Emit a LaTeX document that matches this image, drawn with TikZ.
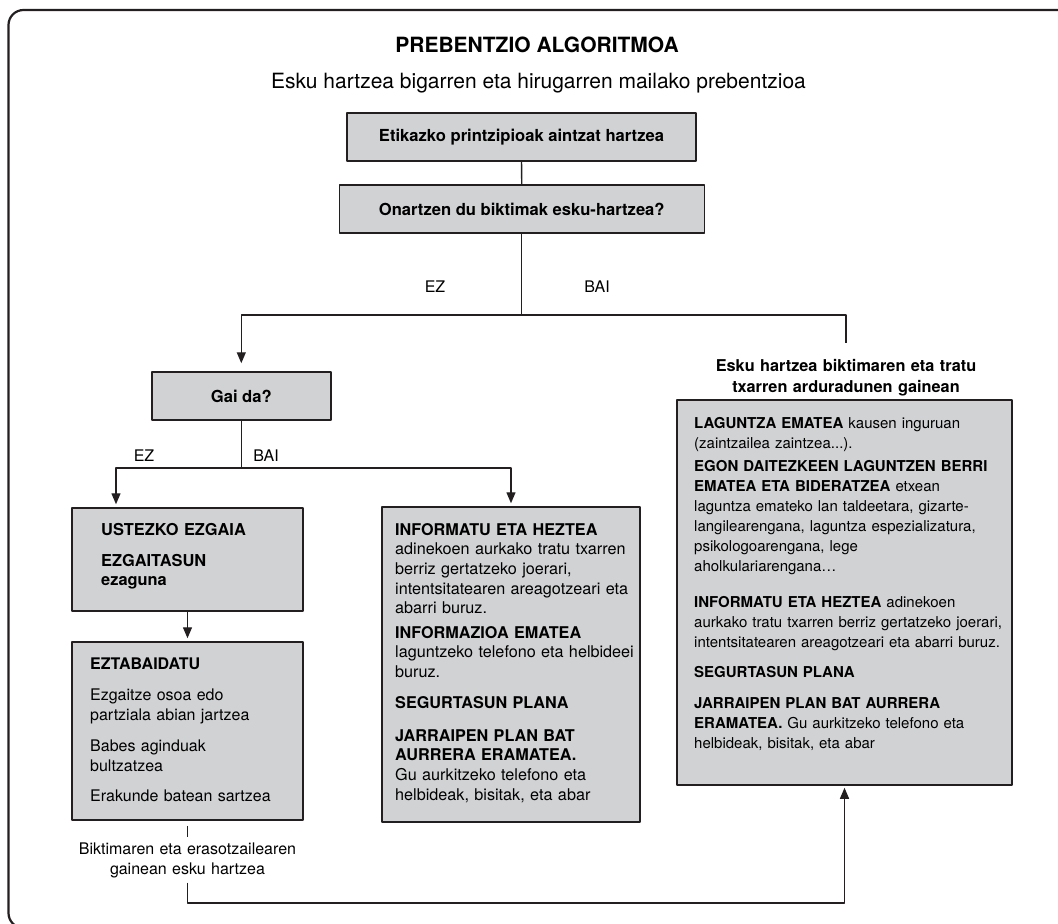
\documentclass[tikz,border=0pt]{standalone}
\usepackage{fontspec}
\setmainfont{TeX Gyre Heros}
\usetikzlibrary{arrows.meta}
\definecolor{boxgrey}{RGB}{209,210,212}
\definecolor{ink}{RGB}{35,31,32}
\begin{document}
\begin{tikzpicture}[x=1pt,y=-1pt,line join=round,>={Triangle[length=11pt,width=9pt]},
  box/.style={draw=ink,line width=1.5pt,fill=boxgrey,inner sep=0pt},
  wire/.style={draw=ink,line width=1.3pt},
  para/.style={anchor=base west,inner sep=0pt,text width=330pt,align=left},
  lbl/.style={font=\fontsize{16}{19}\selectfont},
  lfont/.style={font=\fontsize{16}{20}\selectfont},
  mfont/.style={font=\fontsize{16.2}{19.7}\selectfont},
  rfont/.style={font=\fontsize{15}{20}\selectfont},
  hfont/.style={font=\bfseries\fontsize{16.6}{20}\selectfont}]
\useasboundingbox (0,0) rectangle (1058,924);
\clip (0,0) rectangle (1058,924);
\draw[ink,line width=2.2pt,rounded corners=15pt] (8.5,10) rectangle (1075,928);

\node[font=\bfseries\fontsize{21}{25}\selectfont] (title) at (537,44.5) {PREBENTZIO ALGORITMOA};
\node[font=\fontsize{21}{25}\selectfont] (sub) at (538.5,83) {Esku hartzea bigarren eta hirugarren mailako prebentzioa};

\node[box,hfont,minimum width=349pt,minimum height=48pt] (ethic) at (521.5,137) {Etikazko printzipioak aintzat hartzea};
\node[box,hfont,minimum width=365pt,minimum height=48pt] (accept) at (521.75,209) {Onartzen du biktimak esku-hartzea?};
\node[box,hfont,minimum width=179pt,minimum height=48pt] (gai) at (241.3,396) {Gai da?};
\node[box,minimum width=231pt,minimum height=103pt] (ustezko) at (187.5,559.5) {};
\node[box,minimum width=231pt,minimum height=178pt] (eztab) at (187.5,731) {};
\node[box,minimum width=258pt,minimum height=315pt] (info) at (511,664.5) {};
\node[box,minimum width=335pt,minimum height=385pt] (care) at (844.5,592.5) {};

\foreach \x/\y/\g in {435/287/EZ,597/287/BAI,144/456/EZ,266/456/BAI}\node[lbl] (l\x) at (\x,\y) {\g};

\foreach \y/\t [count=\i] in {535/{\textbf{USTEZKO EZGAIA}},566/{\textbf{EZGAITASUN}\\\textbf{ezaguna}}}
  \node[para,font=\fontsize{16.4}{19}\selectfont] (u\i) at (101,\y) {\t};
\foreach \y/\t [count=\i] in {669/{\textbf{EZTABAIDATU}},700/{Ezgaitze osoa edo\\partziala abian jartzea},
  751/{Babes aginduak\\bultzatzea},801/{Erakunde batean sartzea}}
  \node[para,lfont] (e\i) at (90,\y) {\t};
\foreach \y/\t [count=\i] in {535/{\textbf{INFORMATU ETA HEZTEA}\\adinekoen aurkako tratu txarren\\berriz gertatzeko joerari,\\intentsitatearen areagotzeari eta\\abarri buruz.},
  638/{\textbf{INFORMAZIOA EMATEA}\\laguntzeko telefono eta helbideei\\buruz.},
  708/{\textbf{SEGURTASUN PLANA}},
  741/{\textbf{JARRAIPEN PLAN BAT}\\\textbf{AURRERA ERAMATEA.}\\Gu aurkitzeko telefono eta\\helbideak, bisitak, eta abar}}
  \node[para,mfont] (m\i) at (395,\y) {\t};
\foreach \y/\t [count=\i] in {428.5/{\textbf{LAGUNTZA EMATEA} kausen inguruan\\(zaintzailea zaintzea...).},
  471.5/{\textbf{EGON DAITEZKEEN LAGUNTZEN BERRI}\\\textbf{EMATEA ETA BIDERATZEA} etxean\\laguntza emateko lan taldeetara, gizarte-\\langilearengana, laguntza espezializatura,\\psikologoarengana, lege\\aholkulariarengana…},
  607.5/{\textbf{INFORMATU ETA HEZTEA} adinekoen\\aurkako tratu txarren berriz gertatzeko joerari,\\intentsitatearen areagotzeari eta abarri buruz.},
  677.5/{\textbf{SEGURTASUN PLANA}},
  708.5/{\textbf{JARRAIPEN PLAN BAT AURRERA}\\\textbf{ERAMATEA.} Gu aurkitzeko telefono eta\\helbideak, bisitak, eta abar}}
  \node[para,rfont] (r\i) at (694,\y) {\t};

\node[anchor=base,text width=320pt,align=center,inner sep=0pt,font=\bfseries\fontsize{16.3}{21}\selectfont] (harm) at (846,371) {Esku hartzea biktimaren eta tratu\\txarren arduradunen gainean};
\node[anchor=base,text width=240pt,align=center,inner xsep=0pt,inner ysep=5pt,lfont] (bikt) at (187.5,854) {Biktimaren eta erasotzailearen\\gainean esku hartzea};

\coordinate (split) at (521.75,315);
\coordinate (split2) at (241.3,468);
\coordinate (ezleft) at (116,468);
\coordinate (turn) at (187.5,903);
\draw[wire] (ethic) -- (accept);
\draw[wire] (accept) -- (split);
\draw[wire,->,shorten >=8pt] (split) -| (gai);
\draw[wire] (split) -| ([yshift=16pt]harm.north);
\draw[wire] (gai) -- (split2);
\draw[wire,->,shorten >=3pt] (split2) -- (ezleft) -- (ezleft |- ustezko.north);
\draw[wire,->,shorten >=3pt] (split2) -| (info);
\draw[wire,->,shorten >=3pt] (ustezko) -- (eztab);
\draw[wire] ([yshift=-5pt]eztab.south) -- (bikt);
\draw[wire,->,shorten >=2pt] (bikt) -- (turn) -| (care);
\end{tikzpicture}
\end{document}
